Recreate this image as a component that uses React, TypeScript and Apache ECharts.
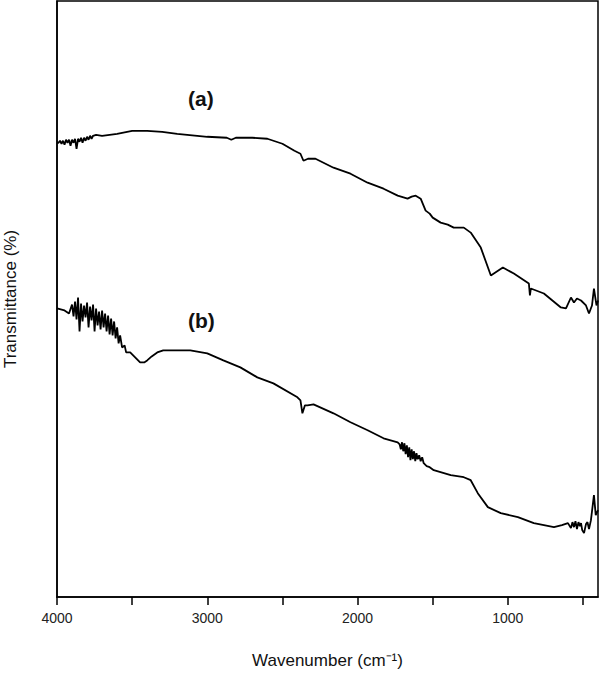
import React, { useEffect, useRef } from "react";
import * as echarts from "echarts";

// Wavenumber (cm^-1) and transmittance (arbitrary units)
const waveA = [4000, 3990, 3980, 3970, 3960, 3950, 3940, 3930, 3920, 3910, 3900, 3890, 3880, 3870, 3860, 3850, 3840, 3830, 3820, 3810, 3800, 3790, 3780, 3770, 3760, 3740, 3700, 3600, 3500, 3400, 3300, 3200, 3000, 2870, 2840, 2810, 2700, 2600, 2500, 2420, 2380, 2360, 2330, 2280, 2160, 2047, 1933, 1827, 1733, 1667, 1640, 1613, 1580, 1547, 1520, 1500, 1447, 1400, 1360, 1293, 1247, 1180, 1113, 1093, 1033, 960, 860, 853, 847, 760, 647, 613, 580, 560, 540, 513, 480, 460, 440, 427, 410, 400];
const transA = [455, 455, 457, 454, 457, 453, 458, 455, 458, 452, 458, 455, 459, 449, 459, 456, 460, 455, 460, 457, 461, 458, 462, 459, 462, 463, 462, 464, 467, 467, 466, 464, 461, 460, 458, 460, 460, 459, 454, 447, 444, 437, 439, 439, 430, 424, 415, 409, 402, 399, 401, 402, 399, 387, 384, 380, 375, 373, 370, 370, 365, 350, 322, 324, 330, 324, 314, 302, 309, 304, 290, 289, 300, 295, 299, 297, 292, 284, 292, 309, 292, 297];

const waveB = [4000, 3950, 3920, 3900, 3890, 3880, 3870, 3860, 3850, 3840, 3830, 3820, 3810, 3800, 3790, 3780, 3770, 3760, 3750, 3740, 3730, 3720, 3710, 3700, 3690, 3680, 3670, 3660, 3650, 3640, 3630, 3620, 3610, 3600, 3590, 3580, 3567, 3550, 3540, 3513, 3480, 3447, 3420, 3400, 3370, 3333, 3293, 3113, 3000, 2893, 2780, 2667, 2560, 2400, 2380, 2367, 2350, 2333, 2293, 2160, 2047, 1933, 1827, 1733, 1720, 1712, 1704, 1696, 1688, 1680, 1672, 1664, 1656, 1648, 1640, 1632, 1624, 1616, 1608, 1600, 1590, 1580, 1570, 1560, 1540, 1520, 1493, 1380, 1293, 1247, 1200, 1133, 1047, 933, 827, 693, 640, 600, 580, 570, 560, 550, 540, 530, 520, 513, 505, 493, 480, 470, 460, 447, 435, 427, 415, 400];
const transB = [289, 287, 284, 293, 281, 296, 278, 300, 266, 294, 276, 292, 280, 295, 270, 291, 277, 293, 266, 289, 272, 286, 268, 287, 270, 284, 266, 282, 263, 279, 262, 276, 259, 270, 254, 262, 250, 252, 245, 245, 240, 235, 235, 237, 241, 245, 247, 247, 244, 237, 230, 220, 214, 200, 197, 184, 192, 192, 193, 184, 175, 167, 159, 155, 153, 148, 155, 146, 154, 143, 152, 140, 150, 137, 148, 138, 146, 136, 144, 138, 142, 136, 140, 134, 131, 130, 127, 122, 120, 117, 104, 90, 84, 80, 74, 70, 72, 74, 69, 75, 70, 76, 68, 75, 71, 74, 67, 64, 73, 75, 68, 77, 92, 102, 82, 87];

const tickValues = [500, 1000, 1500, 2000, 2500, 3000, 3500, 4000];
const labelValues = [1000, 2000, 3000, 4000];
const seriesLabels = ["(a)", "(b)"];

export default function App() {
  const ref = useRef<HTMLDivElement>(null);
  useEffect(() => {
    if (!ref.current) return;
    const chart = echarts.init(ref.current, null, { renderer: "svg" });
    const font = "Liberation Sans, Arial, sans-serif";
    const mk = (w: number[], t: number[]) => w.map((x, i) => [x, t[i]]);
    chart.setOption({
      animation: false,
      backgroundColor: "#fff",
      grid: {
        left: 57,
        right: 2,
        top: 1,
        bottom: 85,
        show: true,
        borderColor: "#000",
        borderWidth: 1.5,
        containLabel: false,
        outerBoundsMode: "none",
      },
      xAxis: {
        type: "value",
        inverse: true,
        min: 400,
        max: 4000,
        name: "Wavenumber (cm⁻¹)",
        nameLocation: "middle",
        nameGap: 55,
        nameTextStyle: { fontFamily: font, fontSize: 17, color: "#111" },
        axisLine: { show: true, lineStyle: { color: "#000", width: 1.5 } },
        axisTick: {
          show: true,
          inside: false,
          length: 8,
          customValues: tickValues,
          lineStyle: { color: "#000", width: 1.5 },
        },
        axisLabel: {
          customValues: labelValues,
          formatter: (v: number) => String(v),
          margin: 14,
          fontFamily: font,
          fontSize: 14,
          color: "#222",
        },
        splitLine: { show: false },
      },
      yAxis: {
        type: "value",
        min: 0,
        max: 597,
        name: "Transmittance (%)",
        nameLocation: "middle",
        nameGap: 38,
        nameTextStyle: { fontFamily: font, fontSize: 17, color: "#111" },
        axisLine: { show: true, lineStyle: { color: "#000", width: 1.5 } },
        axisTick: { show: false },
        axisLabel: { show: false },
        splitLine: { show: false },
      },
      graphic: [
        {
          type: "text",
          left: 188,
          top: 88,
          style: { text: seriesLabels[0], fontFamily: font, fontWeight: "bold", fontSize: 21, fill: "#111" },
        },
        {
          type: "text",
          left: 188,
          top: 310,
          style: { text: seriesLabels[1], fontFamily: font, fontWeight: "bold", fontSize: 21, fill: "#111" },
        },
      ],
      series: [
        {
          type: "line",
          data: mk(waveA, transA),
          showSymbol: false,
          lineStyle: { color: "#000", width: 1.8 },
        },
        {
          type: "line",
          data: mk(waveB, transB),
          showSymbol: false,
          lineStyle: { color: "#000", width: 1.8 },
        },
      ],
    });
    return () => chart.dispose();
  }, []);
  return (
    <div
      ref={ref}
      style={{ position: "fixed", left: 0, top: 0, width: 600, height: 682, background: "#fff" }}
    />
  );
}
